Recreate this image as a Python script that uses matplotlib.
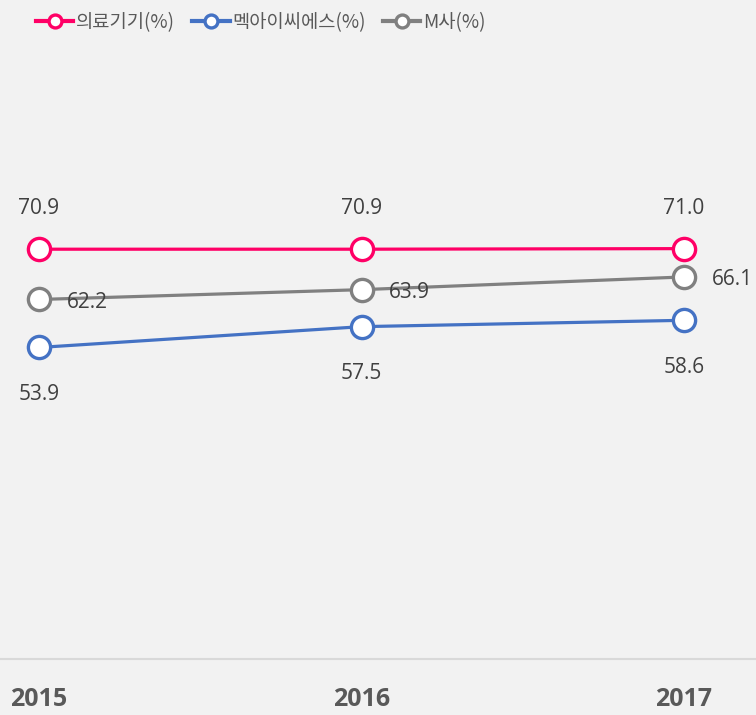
import matplotlib
matplotlib.use("Agg")
import matplotlib.pyplot as plt

plt.rcParams['font.family'] = ['Noto Sans CJK KR', 'DejaVu Sans']

years = ["2015", "2016", "2017"]
medical = [70.9, 70.9, 71.0]
mex = [53.9, 57.5, 58.6]
m_company = [62.2, 63.9, 66.1]
series_names = ["의료기기(%)", "멕아이씨에스(%)", "M사(%)"]
colors = ["#FF0066", "#4472C4", "#808080"]

bg = "#F2F2F2"
fig = plt.figure(figsize=(7.56, 7.15), dpi=100, facecolor=bg)
ax = fig.add_axes([0, 56/715, 1, 578/715], facecolor=bg)

x = list(range(len(years)))
handles = []
for vals, name, c in zip([medical, mex, m_company], series_names, colors):
    h, = ax.plot(x, vals, color=c, lw=2.3, marker='o', ms=16, mfc='white',
                 mec=c, mew=2.4, label=name, zorder=3, clip_on=False)
    handles.append(h)

tc = "#404040"
for xi, v in zip(x, medical):
    ax.annotate(f"{v:.1f}", (xi, v), xytext=(0, 29), textcoords='offset points',
                ha='center', va='center', fontsize=15, color=tc, family='Open Sans')
for xi, v in zip(x, mex):
    ax.annotate(f"{v:.1f}", (xi, v), xytext=(0, -34), textcoords='offset points',
                ha='center', va='center', fontsize=15, color=tc, family='Open Sans')
for xi, v in zip(x, m_company):
    ax.annotate(f"{v:.1f}", (xi, v), xytext=(20, -2), textcoords='offset points',
                ha='left', va='center', fontsize=15, color=tc, family='Open Sans')

ax.set_xlim(-39/322.5, 2 + 72/322.5)
ax.set_ylim(0, 100)
ax.set_yticks([])
ax.set_xticks(x)
ax.set_xticklabels(years, fontsize=18, fontweight='bold', color="#595959", family='Open Sans')
ax.tick_params(axis='x', length=0, pad=20)
for s in ['top', 'right', 'left']:
    ax.spines[s].set_visible(False)
ax.spines['bottom'].set_color("#D9D9D9")
ax.spines['bottom'].set_linewidth(1.5)

leg = fig.legend(handles=handles, loc='upper center', bbox_to_anchor=(0.345, 1.007),
                 ncol=3, frameon=False, fontsize=13.5, handlelength=2.0,
                 handletextpad=0.15, columnspacing=0.9, markerscale=0.58)
for h in leg.legend_handles:
    h.set_linewidth(3.0)
for t in leg.get_texts():
    t.set_color("#595959")

fig.savefig("out.png", dpi=100, facecolor=bg)
